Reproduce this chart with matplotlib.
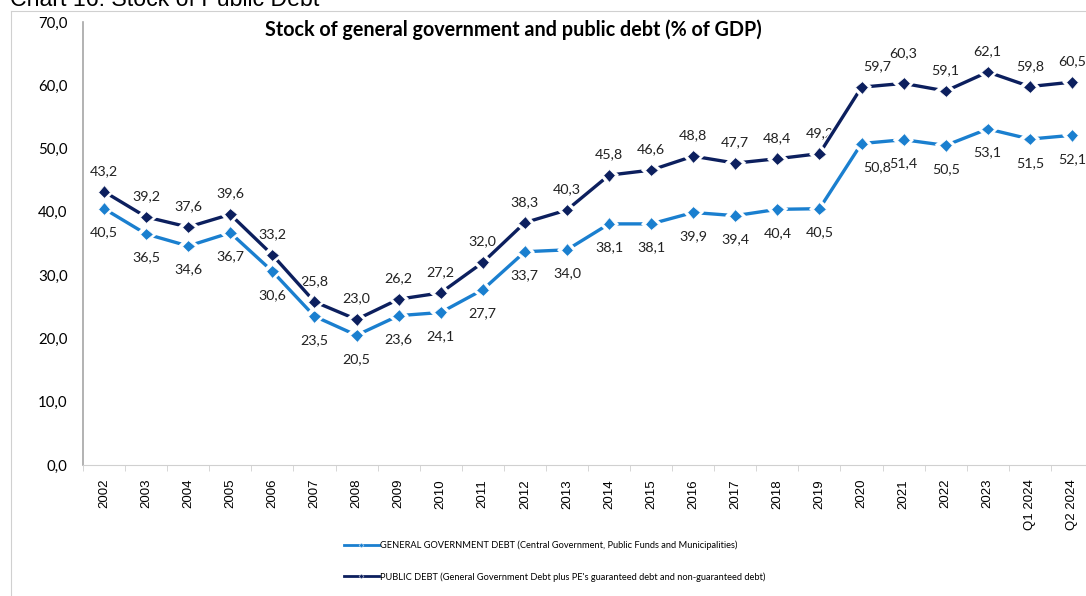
import matplotlib.pyplot as plt
import matplotlib.patheffects as pe
from matplotlib.lines import Line2D
import numpy as np

# periods on the x axis
periods = ["2002", "2003", "2004", "2005", "2006", "2007", "2008", "2009",
           "2010", "2011", "2012", "2013", "2014", "2015", "2016", "2017",
           "2018", "2019", "2020", "2021", "2022", "2023", "Q1 2024", "Q2 2024"]

# general government debt, % of GDP
general_debt = [40.5, 36.5, 34.6, 36.7, 30.6, 23.5, 20.5, 23.6, 24.1, 27.7,
                33.7, 34.0, 38.1, 38.1, 39.9, 39.4, 40.4, 40.5, 50.8, 51.4,
                50.5, 53.1, 51.5, 52.1]

# public debt, % of GDP
public_debt = [43.2, 39.2, 37.6, 39.6, 33.2, 25.8, 23.0, 26.2, 27.2, 32.0,
               38.3, 40.3, 45.8, 46.6, 48.8, 47.7, 48.4, 49.2, 59.7, 60.3,
               59.1, 62.1, 59.8, 60.5]

yticks = [0, 10, 20, 30, 40, 50, 60, 70]

light_blue = "#1a7fcf"
navy = "#0c1f5e"
font = "Lato"

fig = plt.figure(figsize=(10.86, 5.96), dpi=100)
W, H = 1086, 596

# outer chart frame (top and left edges visible)
fig.add_artist(Line2D([11 / W, 1.0], [1 - 11 / H, 1 - 11 / H], color="#d0d0d0", lw=0.8))
fig.add_artist(Line2D([11 / W, 11 / W], [0, 1 - 11 / H], color="#d0d0d0", lw=0.8))

fig.text(10 / W, 1 - 6 / H, "Chart 16: Stock of Public Debt", fontsize=16.7,
         family="Liberation Sans", va="baseline", ha="left")

ax = fig.add_axes([83 / W, 1 - 465 / H, 1010 / W, 443 / H])
x = np.arange(len(periods))

glow = [pe.Stroke(linewidth=4.2, foreground="white"), pe.Normal()]
ax.plot(x, general_debt, color=light_blue, lw=2.4, marker="D", ms=6.5,
        mec="white", mew=0.6, path_effects=glow, zorder=3)
ax.plot(x, public_debt, color=navy, lw=2.4, marker="D", ms=6.5,
        mec="white", mew=0.6, path_effects=glow, zorder=4)

def fmt(v):
    return f"{v:.1f}".replace(".", ",")

for i in range(len(periods)):
    dx = 11 if periods[i] == "2020" else 0
    up = 22 if periods[i] == "2021" else 15
    ax.annotate(fmt(public_debt[i]), (x[i], public_debt[i]), xytext=(dx, up),
                textcoords="offset points", ha="center", va="center",
                fontsize=10.3, family=font, color="#222222")
    ax.annotate(fmt(general_debt[i]), (x[i], general_debt[i]), xytext=(dx, -17),
                textcoords="offset points", ha="center", va="center",
                fontsize=10.3, family=font, color="#222222")

ax.set_xlim(-0.5, len(periods) - 0.5)
ax.set_ylim(0, 70)
ax.set_yticks(yticks)
ax.set_yticklabels([fmt(v) for v in yticks], family=font, fontsize=10.8)
ax.tick_params(axis="y", length=0, pad=11)

ax.set_xticks(x)
ax.set_xticklabels(periods, rotation=90, family="Liberation Sans", fontsize=9.5)
ax.set_xticks(np.arange(len(periods) + 1) - 0.5, minor=True)
ax.tick_params(axis="x", which="major", length=0, pad=10)
ax.tick_params(axis="x", which="minor", length=4, color="#d0d0d0")

for s in ["top", "right"]:
    ax.spines[s].set_visible(False)
ax.spines["left"].set_color("#a6a6a6")
ax.spines["left"].set_linewidth(1.2)
ax.spines["bottom"].set_color("#d0d0d0")

fig.text(513 / W, 1 - 30 / H, "Stock of general government and public debt (% of GDP)",
         family=font, fontweight="bold", fontsize=14.2, ha="center", va="center")

# legend rows under the chart
h1 = Line2D([], [], color=light_blue, lw=2, marker="D", ms=2.5, mec="white", mew=0.3)
h2 = Line2D([], [], color=navy, lw=2, marker="D", ms=2.5, mec="white", mew=0.3)
fig.legend([h1, h2],
           ["GENERAL GOVERNMENT DEBT (Central Government, Public Funds and Municipalities)",
            "PUBLIC DEBT (General Government Debt plus PE's guaranteed debt and non-guaranteed debt)"],
           loc="upper left", bbox_to_anchor=(340 / W, 1 - 537 / H), frameon=False,
           prop={"family": font, "size": 6.7}, handlelength=3.8, handletextpad=0.15,
           labelspacing=2.35, borderaxespad=0)

fig.savefig("out.png", dpi=100)
